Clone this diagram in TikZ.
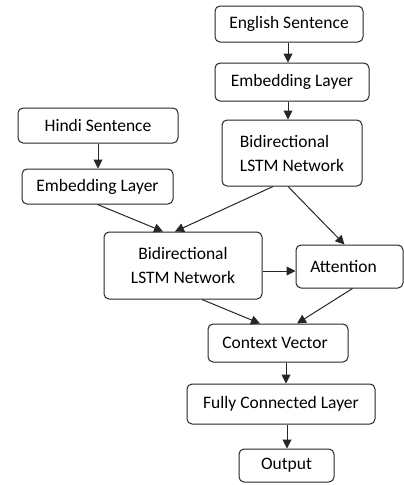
\documentclass[tikz,border=0pt]{standalone}
\usepackage{fontspec}
\setmainfont{Carlito}
\usetikzlibrary{arrows.meta}
\begin{document}
\begin{tikzpicture}[x=1pt,y=-1pt,
  box/.style={draw=black!85,line width=1pt,rounded corners=5pt,inner sep=0pt,
    font=\fontsize{17.5}{24}\selectfont,align=center},
  arr/.style={draw=black!85,line width=1pt,-{Triangle[length=9pt,width=9pt]}}]
\useasboundingbox (0,0) rectangle (404,485);
\node[box,minimum width=148pt,minimum height=36pt] (eng) at (289,24) {English Sentence};
\node[box,minimum width=154pt,minimum height=38pt] (emb1) at (292,82) {Embedding Layer};
\node[box,minimum width=140pt,minimum height=66pt,align=left] (bid1) at (292,153) {Bidirectional\\LSTM Network};
\node[box,minimum width=160pt,minimum height=35pt] (hin) at (98,125.5) {Hindi Sentence};
\node[box,minimum width=151pt,minimum height=35pt] (emb2) at (97.5,186.5) {Embedding Layer};
\node[box,minimum width=158pt,minimum height=67pt] (bid2) at (183,265.5) {Bidirectional\\LSTM Network};
\node[box,minimum width=107pt,minimum height=43pt] (att) at (349.5,266.5) {\hspace*{-12pt}Attention};
\node[box,minimum width=140pt,minimum height=38pt] (ctx) at (278,343) {\hspace*{-6pt}Context Vector};
\node[box,minimum width=188pt,minimum height=40pt] (fc) at (281,404) {Fully Connected Layer};
\node[box,minimum width=95pt,minimum height=33pt] (out) at (286.5,465.5) {Output};
\draw[arr] ([xshift=-1pt]eng.south) -- ([xshift=-1pt]eng.south |- emb1.north);
\draw[arr] ([xshift=-4pt]emb1.south) -- ([xshift=-4pt]emb1.south |- bid1.north);
\draw[arr] (hin.south) -- (hin.south |- emb2.north);
\draw[arr] (emb2.south) -- ([xshift=-20pt]bid2.north);
\draw[arr] ([xshift=-19pt]bid1.south) -- ([xshift=-8pt]bid2.north);
\draw[arr] ([xshift=-4pt]bid1.south) -- ([xshift=-5pt]att.north);
\draw[arr] ([yshift=-5.5pt]bid2.east) -- ([yshift=-5.5pt]bid2.east -| att.west);
\draw[arr] ([xshift=19pt]bid2.south) -- ([xshift=-18pt]ctx.north);
\draw[arr] ([xshift=3pt]att.south) -- ([xshift=19pt]ctx.north);
\draw[arr] ([xshift=8pt]ctx.south) -- ([xshift=8pt]ctx.south |- fc.north);
\draw[arr] ([xshift=6pt]fc.south) -- ([xshift=6pt]fc.south |- out.north);
\end{tikzpicture}
\end{document}
